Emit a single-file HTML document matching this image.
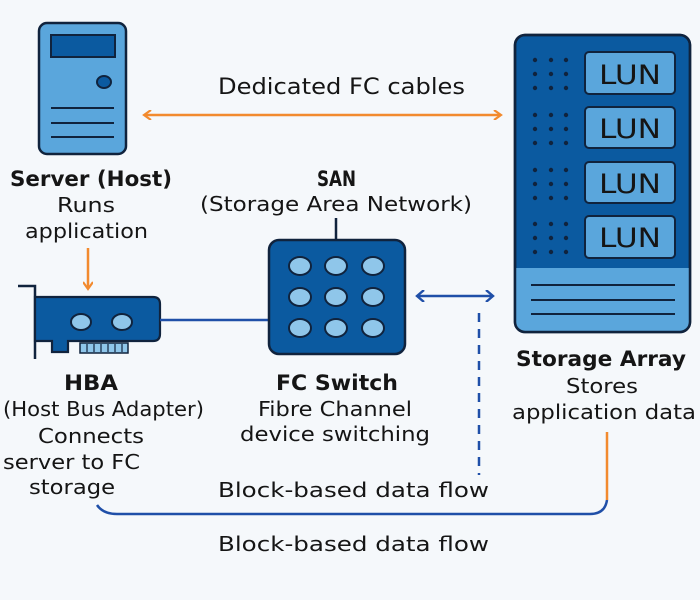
<!DOCTYPE html>
<html><head><meta charset="utf-8"><style>
html,body{margin:0;padding:0;background:#f5f8fb;}
svg{display:block;}
text{font-family:"DejaVu Sans","Liberation Sans",sans-serif;fill:#151515;}
</style></head><body>
<svg width="700" height="600" viewBox="0 0 700 600" xmlns="http://www.w3.org/2000/svg">
<defs>
<marker id="ao" markerWidth="10" markerHeight="10" refX="7" refY="5" orient="auto-start-reverse" markerUnits="userSpaceOnUse"><path d="M1,0 L8,5 L1,10" fill="none" stroke="#f28a2e" stroke-width="2.2"/></marker>
<marker id="ab" markerWidth="10" markerHeight="12" refX="7" refY="6" orient="auto-start-reverse" markerUnits="userSpaceOnUse"><path d="M1,0 L8,6 L1,12" fill="none" stroke="#1f4fa8" stroke-width="2.4"/></marker>
</defs>
<rect width="700" height="600" fill="#f5f8fb"/>
<!-- server -->
<rect x="39" y="23" width="87" height="131" rx="8" fill="#5aa6dc" stroke="#10233d" stroke-width="2.5"/>
<rect x="51" y="35" width="64" height="22" fill="#0b5aa0" stroke="#10233d" stroke-width="2"/>
<ellipse cx="104" cy="82" rx="7" ry="6" fill="#0b5aa0" stroke="#10233d" stroke-width="2"/>
<g stroke="#10233d" stroke-width="2"><line x1="51" y1="108" x2="114" y2="108"/><line x1="51" y1="123" x2="114" y2="123"/><line x1="51" y1="137" x2="114" y2="137"/></g>
<!-- FC cables -->
<line x1="145" y1="115" x2="500" y2="115" stroke="#f28a2e" stroke-width="2.5" marker-start="url(#ao)" marker-end="url(#ao)"/>
<text x="218" y="94" font-size="22" textLength="247" lengthAdjust="spacingAndGlyphs">Dedicated FC cables</text>
<text x="10" y="186" font-size="21" font-weight="bold" textLength="162" lengthAdjust="spacingAndGlyphs">Server (Host)</text>
<text x="57" y="212" font-size="20" textLength="58" lengthAdjust="spacingAndGlyphs">Runs</text>
<text x="25" y="238" font-size="20" textLength="123" lengthAdjust="spacingAndGlyphs">application</text>
<line x1="88" y1="248" x2="88" y2="288" stroke="#f28a2e" stroke-width="2.5" marker-end="url(#ao)"/>
<!-- HBA -->
<path d="M18,286 H35 V359" fill="none" stroke="#10233d" stroke-width="2.5"/>
<path d="M35,297 H153 Q160,297 160,304 V334 Q160,341 153,341 H68 V352 H52 V341 H35 Z" fill="#0b5aa0" stroke="#10233d" stroke-width="2.2"/>
<rect x="80" y="343" width="48" height="10" fill="#8fc6ea" stroke="#10233d" stroke-width="1.5"/>
<g stroke="#10233d" stroke-width="1.2"><line x1="87" y1="344" x2="87" y2="352"/><line x1="94" y1="344" x2="94" y2="352"/><line x1="101" y1="344" x2="101" y2="352"/><line x1="108" y1="344" x2="108" y2="352"/><line x1="115" y1="344" x2="115" y2="352"/><line x1="122" y1="344" x2="122" y2="352"/></g>
<ellipse cx="81" cy="322" rx="10" ry="8" fill="#8fc6ea" stroke="#10233d" stroke-width="2"/>
<ellipse cx="122" cy="322" rx="10" ry="8" fill="#8fc6ea" stroke="#10233d" stroke-width="2"/>
<line x1="160" y1="320" x2="269" y2="320" stroke="#1f4fa8" stroke-width="2.5"/>
<text x="64" y="390" font-size="21" font-weight="bold" textLength="54" lengthAdjust="spacingAndGlyphs">HBA</text>
<text x="3" y="416" font-size="20" textLength="201" lengthAdjust="spacingAndGlyphs">(Host Bus Adapter)</text>
<text x="38" y="443" font-size="20" textLength="106" lengthAdjust="spacingAndGlyphs">Connects</text>
<text x="3" y="469" font-size="20" textLength="137" lengthAdjust="spacingAndGlyphs">server to FC</text>
<text x="29" y="494" font-size="20" textLength="86" lengthAdjust="spacingAndGlyphs">storage</text>
<!-- SAN -->
<text x="317" y="186" font-size="21" font-weight="bold" textLength="39" lengthAdjust="spacingAndGlyphs">SAN</text>
<text x="200" y="211" font-size="20" textLength="272" lengthAdjust="spacingAndGlyphs">(Storage Area Network)</text>
<line x1="336" y1="218" x2="336" y2="240" stroke="#10233d" stroke-width="2.5"/>
<rect x="269" y="240" width="136" height="114" rx="10" fill="#0b5aa0" stroke="#10233d" stroke-width="2.5"/>
<g fill="#8fc6ea" stroke="#10233d" stroke-width="2">
<ellipse cx="300" cy="266" rx="11" ry="9"/><ellipse cx="336" cy="266" rx="11" ry="9"/><ellipse cx="373" cy="266" rx="11" ry="9"/>
<ellipse cx="300" cy="297" rx="11" ry="9"/><ellipse cx="336" cy="297" rx="11" ry="9"/><ellipse cx="373" cy="297" rx="11" ry="9"/>
<ellipse cx="300" cy="328" rx="11" ry="9"/><ellipse cx="336" cy="328" rx="11" ry="9"/><ellipse cx="373" cy="328" rx="11" ry="9"/>
</g>
<text x="276" y="390" font-size="21" font-weight="bold" textLength="122" lengthAdjust="spacingAndGlyphs">FC Switch</text>
<text x="258" y="416" font-size="20" textLength="154" lengthAdjust="spacingAndGlyphs">Fibre Channel</text>
<text x="240" y="441" font-size="20" textLength="190" lengthAdjust="spacingAndGlyphs">device switching</text>
<line x1="418" y1="296" x2="492" y2="296" stroke="#1f4fa8" stroke-width="2.5" marker-start="url(#ab)" marker-end="url(#ab)"/>
<line x1="479" y1="313" x2="479" y2="475" stroke="#1f4fa8" stroke-width="2.5" stroke-dasharray="9,7"/>
<!-- storage array -->
<rect x="515" y="35" width="175" height="297" rx="10" fill="#0b5aa0" stroke="#10233d" stroke-width="2.5"/>
<path d="M516,268 H689 V322 Q689,331 680,331 H525 Q516,331 516,322 Z" fill="#5aa6dc"/>
<rect x="515" y="35" width="175" height="297" rx="10" fill="none" stroke="#10233d" stroke-width="2.5"/>
<g stroke="#10233d" stroke-width="2"><line x1="531" y1="285" x2="675" y2="285"/><line x1="531" y1="300" x2="675" y2="300"/><line x1="531" y1="314" x2="675" y2="314"/></g>
<g fill="#10233d">
<g id="dots"><circle cx="535" cy="60" r="2.2"/><circle cx="551" cy="60" r="2.2"/><circle cx="566" cy="60" r="2.2"/><circle cx="535" cy="74" r="2.2"/><circle cx="551" cy="74" r="2.2"/><circle cx="566" cy="74" r="2.2"/><circle cx="535" cy="88" r="2.2"/><circle cx="551" cy="88" r="2.2"/><circle cx="566" cy="88" r="2.2"/></g>
<use href="#dots" y="55"/><use href="#dots" y="110"/><use href="#dots" y="164"/>
</g>
<g fill="#5aa6dc" stroke="#10233d" stroke-width="2">
<rect x="585" y="52" width="90" height="42" rx="4"/><rect x="585" y="107" width="90" height="41" rx="4"/><rect x="585" y="162" width="90" height="41" rx="4"/><rect x="585" y="216" width="90" height="42" rx="4"/>
</g>
<g font-size="27"><text x="599" y="84" textLength="62" lengthAdjust="spacingAndGlyphs">LUN</text><text x="599" y="138" textLength="62" lengthAdjust="spacingAndGlyphs">LUN</text><text x="599" y="193" textLength="62" lengthAdjust="spacingAndGlyphs">LUN</text><text x="599" y="247" textLength="62" lengthAdjust="spacingAndGlyphs">LUN</text></g>
<text x="516" y="366" font-size="21" font-weight="bold" textLength="170" lengthAdjust="spacingAndGlyphs">Storage Array</text>
<text x="566" y="393" font-size="20" textLength="72" lengthAdjust="spacingAndGlyphs">Stores</text>
<text x="512" y="419" font-size="20" textLength="184" lengthAdjust="spacingAndGlyphs">application data</text>
<!-- bottom flow -->
<path d="M97,505 Q103,514 117,514 H590" fill="none" stroke="#1f4fa8" stroke-width="2.5"/>
<path d="M590,514 Q605,514 607,500" fill="none" stroke="#1f4fa8" stroke-width="2.5"/>
<path d="M607,500 V432" fill="none" stroke="#f28a2e" stroke-width="2.5"/>
<text x="218" y="497" font-size="20" textLength="271" lengthAdjust="spacingAndGlyphs">Block-based data flow</text>
<text x="218" y="551" font-size="20" textLength="271" lengthAdjust="spacingAndGlyphs">Block-based data flow</text>
</svg>
</body></html>
